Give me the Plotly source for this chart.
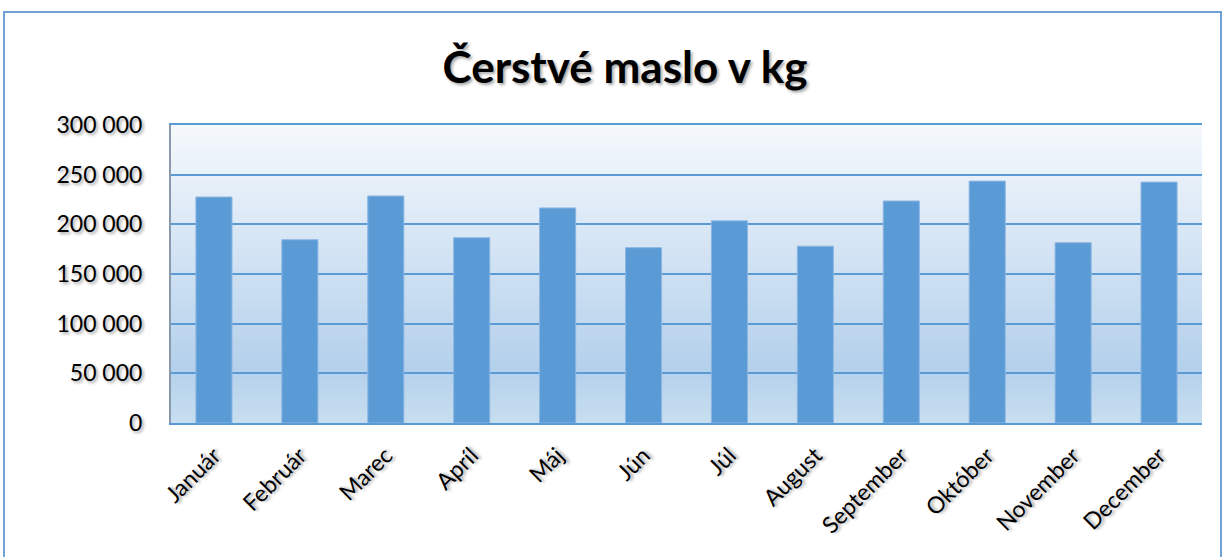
import plotly.graph_objects as go

W, H = 1225, 557
L, R, T, B = 171, 23, 125, 134

months = ["Január", "Február", "Marec", "Apríl", "Máj", "Jún", "Júl",
          "August", "September", "Október", "November", "December"]
butter_kg = [227500, 184500, 228500, 186500, 216500, 176500, 203500,
             178000, 223500, 243500, 181500, 242500]
y_ticks = [0, 50000, 100000, 150000, 200000, 250000, 300000]

BAR = "#5B9BD5"
GRID = "#5B9BD5"
shadow = "2px 2px 3px rgba(0,0,0,0.35)"

fig = go.Figure(go.Bar(
    x=months, y=butter_kg,
    marker=dict(color=BAR, line=dict(color="#8DB6E3", width=1)),
    hovertemplate="%{x}: %{y:,.0f} kg<extra></extra>",
))

# gradient plot background: lighter at the very bottom, deepest blue low, near-white at top
stops = [(0.0, (200, 222, 240)), (0.18, (180, 208, 235)), (1.0, (246, 249, 253))]


def grad(f):
    for (a, ca), (b, cb) in zip(stops, stops[1:]):
        if a <= f <= b:
            t = (f - a) / (b - a)
            return tuple(round(ca[k] + (cb[k] - ca[k]) * t) for k in range(3))
    return stops[-1][1]


n = 80
shapes = []
for i in range(n):
    c = grad((i + 0.5) / n)
    shapes.append(dict(type="rect", xref="x domain", yref="y domain",
                       x0=0, x1=1, y0=i / n, y1=min(1, (i + 2) / n),
                       fillcolor=f"rgb{c}", line_width=0, layer="below"))

# outer chart border (bottom edge runs off the page like in the source)
pw, ph = W - L - R, H - T - B
shapes.append(dict(type="rect", xref="paper", yref="paper",
                   x0=(4 - L) / pw, x1=(1221 - L) / pw,
                   y0=(H - B - 570) / ph, y1=(H - B - 12) / ph,
                   line=dict(color="#6FA0D6", width=2), fillcolor="rgba(0,0,0,0)"))

fig.update_layout(
    width=W, height=H,
    margin=dict(l=L, r=R, t=T, b=B),
    paper_bgcolor="white", plot_bgcolor="rgba(0,0,0,0)",
    font=dict(family="Lato, sans-serif", color="#000000", size=22),
    separators=", ",
    title=dict(text="<b>Čerstvé maslo v kg</b>", x=625 / W, xanchor="center",
               y=1 - 68 / H, yanchor="middle",
               font=dict(size=44, family="Lato, sans-serif", shadow=shadow)),
    bargap=0.58,
    showlegend=False,
    shapes=shapes,
)
fig.update_xaxes(tickangle=-45, showline=True, linecolor=GRID, linewidth=2,
                 mirror=True, ticks="", ticklabelstandoff=8,
                 tickfont=dict(size=23, shadow=shadow))
fig.update_yaxes(range=[0, 300000], tickvals=y_ticks, tickformat=",d",
                 showgrid=True, gridcolor=GRID, gridwidth=2,
                 showline=True, linecolor="#8A9AAE", linewidth=2,
                 zeroline=False, ticks="", ticklabelstandoff=22,
                 tickfont=dict(size=23, shadow=shadow))

fig.write_html("out.html", config={"displayModeBar": False},
               post_script="document.body.style.margin='0';")
